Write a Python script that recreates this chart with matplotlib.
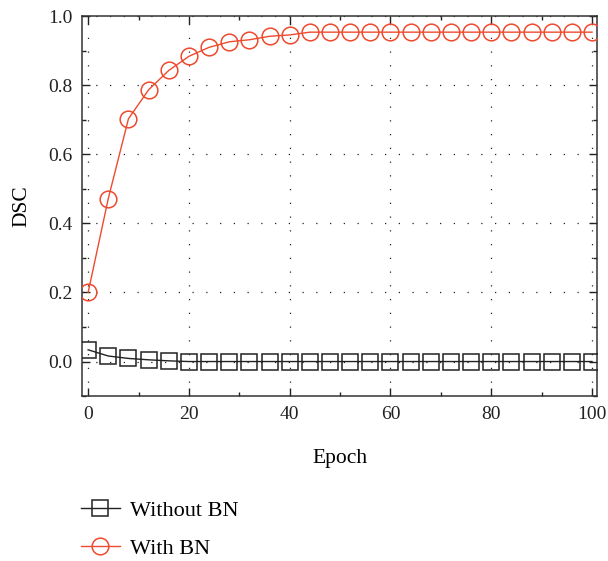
import matplotlib
matplotlib.use("Agg")
import matplotlib.pyplot as plt
from matplotlib.ticker import MultipleLocator, FormatStrFormatter

plt.rcParams['font.family'] = ['Liberation Serif', 'DejaVu Serif']

epochs = [0, 4, 8, 12, 16, 20, 24, 28, 32, 36, 40, 44, 48, 52, 56, 60, 64, 68, 72, 76, 80, 84, 88, 92, 96, 100]
without_bn = [0.034, 0.016, 0.009, 0.005, 0.002, 0.0, 0.0, 0.0, 0.0, 0.0, 0.0, 0.0, 0.0,
              0.0, 0.0, 0.0, 0.0, 0.0, 0.0, 0.0, 0.0, 0.0, 0.0, 0.0, 0.0, 0.0]
with_bn = [0.200, 0.472, 0.703, 0.787, 0.843, 0.884, 0.910, 0.926, 0.932, 0.942, 0.946, 0.954, 0.954,
           0.954, 0.954, 0.954, 0.954, 0.954, 0.954, 0.954, 0.954, 0.954, 0.954, 0.954, 0.954, 0.954]
labels = ["Without BN", "With BN"]

red = '#ee4a2e'
black = '#222222'

fig = plt.figure(figsize=(6.08, 5.61), dpi=100)
ax = fig.add_axes([0.135, 0.294, 0.847, 0.677])

ax.plot(epochs, without_bn, color=black, lw=1.0, marker='s', markersize=11,
        markerfacecolor='none', markeredgecolor=black, markeredgewidth=1.1, label=labels[0], zorder=3)
ax.plot(epochs, with_bn, color=red, lw=1.0, marker='o', markersize=12,
        markerfacecolor='none', markeredgecolor=red, markeredgewidth=1.1, label=labels[1], zorder=3)

ax.set_xlim(-1.2, 101)
ax.set_ylim(-0.1, 1.0)
ax.xaxis.set_major_locator(MultipleLocator(20))
ax.xaxis.set_minor_locator(MultipleLocator(10))
ax.yaxis.set_major_locator(MultipleLocator(0.2))
ax.yaxis.set_minor_locator(MultipleLocator(0.1))
ax.yaxis.set_major_formatter(FormatStrFormatter('%.1f'))
ax.tick_params(which='both', direction='in', top=True, right=True, colors='#222222', labelsize=14)
ax.tick_params(which='major', length=6, width=1.0, pad=7)
ax.tick_params(which='minor', length=3, width=1.0)
for s in ax.spines.values():
    s.set_linewidth(1.1)
    s.set_color('#333333')

ax.grid(True, which='major', color='#222222', linestyle=(0, (1, 10)), linewidth=0.9)
ax.set_axisbelow(True)

ax.set_xlabel("Epoch", fontsize=15.5, labelpad=19)
ax.set_ylabel("DSC", fontsize=15.5, labelpad=12)

fig.legend(loc='center left', bbox_to_anchor=(0.133, 0.056), frameon=False,
           fontsize=16, handlelength=1.75, handletextpad=0.45, labelspacing=0.8,
           borderpad=0, borderaxespad=0)

fig.savefig("out.png", dpi=100)
